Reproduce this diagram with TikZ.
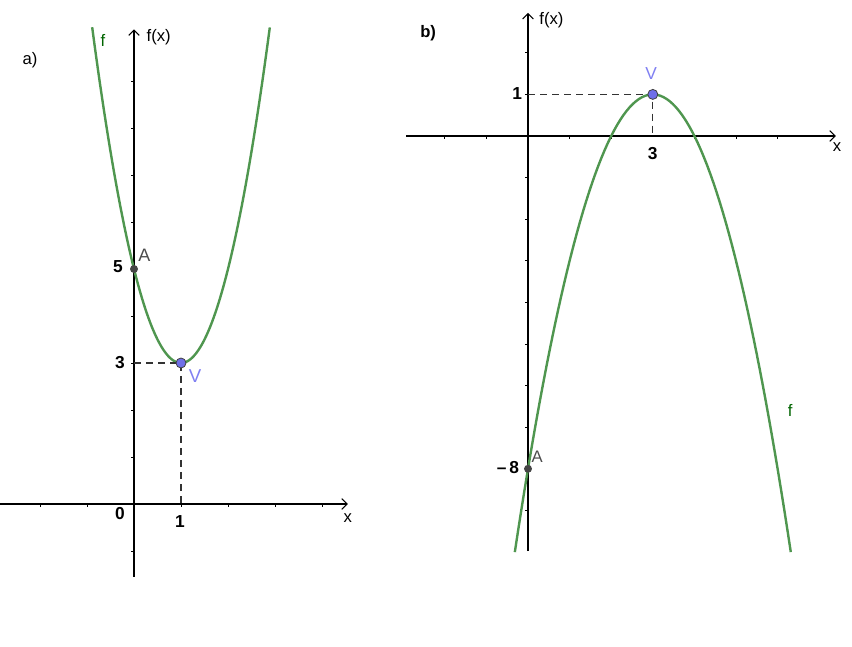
\documentclass[tikz,border=0pt]{standalone}
\usepackage{fontspec}
\setmainfont{Liberation Sans}
\usepackage{tikz}
\usetikzlibrary{arrows.meta}
\definecolor{curvegreen}{HTML}{4F964F}
\definecolor{labelgreen}{HTML}{006400}
\definecolor{vertexblue}{HTML}{6F6FE8}
\definecolor{vertexlabel}{HTML}{8080F2}
\definecolor{pointgray}{HTML}{454545}

\begin{document}
\begin{tikzpicture}[
    axis/.style={line width=0.8pt, -{Straight Barb[length=4pt, width=8pt]}},
    tick/.style={line width=0.6pt},
    graph/.style={curvegreen, line width=1.8pt},
    guide/.style={dash pattern=on 5.5pt off 3.5pt, line width=0.8pt, black!80},
    vertexpt/.style={circle, draw=black!75, line width=0.6pt, fill=vertexblue,
      inner sep=0pt, minimum size=7.5pt},
    interceptpt/.style={circle, fill=pointgray, inner sep=0pt, minimum size=6pt},
    numlabel/.style={font=\fontsize{13}{15}\selectfont\bfseries},
    ptlabel/.style={font=\fontsize{12.5}{15}\selectfont}
  ]
  \useasboundingbox (0,0) rectangle (639pt,484.5pt);

  % a) f(x) = 2(x-1)^2 + 3
  \begin{scope}[shift={(100.5pt,106.5pt)}, x=35.25pt, y=35.25pt]
    \draw[axis] (-2.85,0) -- (4.55,0) coordinate (xa);
    \draw[axis] (0,-1.55) -- (0,10.1) coordinate (ya);
    \foreach \t in {-2,-1,1,2,3,4}
      \draw[tick] (\t,0) -- (\t,-0.07);
    \foreach \t in {-1,1,2,...,9}
      \draw[tick] (0,\t) -- (-0.07,\t);

    \draw[graph] plot[domain=-0.89:2.89, samples=90] (\x, {2*(\x-1)^2+3});

    \coordinate (Va-y) at (0,3);
    \coordinate (Va-x) at (1,0);
    \draw[guide] (Va-y) -- (1,3) -- (Va-x);
    \node[interceptpt] (Aa) at (0,5) {};
    \node[vertexpt] (Va) at (1,3) {};

    \node[ptlabel] (lbla) at (-2.21,9.45) {a)};
    \node[ptlabel, anchor=west] (fxa) at (0.17,9.94) {f(x)};
    \node[ptlabel, labelgreen] (fa) at (-0.66,9.87) {f};
    \node[numlabel] (five) at (-0.34,5.04) {5};
    \node[ptlabel, black!70, font=\fontsize{13.5}{15}\selectfont] (Aa-l) at (0.22,5.3) {A};
    \node[numlabel] (three) at (-0.3,3) {3};
    \node[ptlabel, vertexlabel, font=\fontsize{14}{15}\selectfont] (Va-l) at (1.3,2.72) {V};
    \node[numlabel] (zero) at (-0.3,-0.21) {0};
    \node[numlabel] (one) at (0.98,-0.38) {1};
    \node[ptlabel] (xa-l) at (4.55,-0.3) {x};
  \end{scope}

  % b) f(x) = -(x-3)^2 + 1
  \begin{scope}[shift={(396pt,382.5pt)}, x=31.2pt, y=31.2pt]
    \draw[axis] (-2.93,0) -- (7.4,0) coordinate (xb);
    \draw[axis] (0,-9.98) -- (0,2.96) coordinate (yb);
    \foreach \t in {-2,-1,1,2,4,5,6}
      \draw[tick] (\t,0) -- (\t,-0.07);
    \foreach \t in {2,1,-1,-2,...,-9}
      \draw[tick] (0,\t) -- (-0.07,\t);

    \draw[graph] plot[domain=-0.317:6.317, samples=90] (\x, {-(\x-3)^2+1});

    \coordinate (Vb-y) at (0,1);
    \coordinate (Vb-x) at (3,0);
    \draw[guide] (Vb-y) -- (3,1) -- (Vb-x);
    \node[interceptpt] (Ab) at (0,-8) {};
    \node[vertexpt] (Vb) at (3,1) {};

    \node[ptlabel, font=\fontsize{12.5}{15}\selectfont\bfseries] (lblb) at (-2.4,2.48) {b)};
    \node[ptlabel, anchor=west] (fxb) at (0.16,2.79) {f(x)};
    \node[ptlabel, vertexlabel, font=\fontsize{13}{15}\selectfont] (Vb-l) at (2.96,1.51) {V};
    \node[numlabel] (oneb) at (-0.26,1.01) {1};
    \node[numlabel] (threeb) at (3.0,-0.41) {3};
    \node[ptlabel] (xb-l) at (7.43,-0.26) {x};
    \node[numlabel] (minus8) at (-0.48,-7.98) {–\,8};
    \node[ptlabel, black!70] (Ab-l) at (0.22,-7.72) {A};
    \node[ptlabel, labelgreen] (fb) at (6.3,-6.59) {f};
  \end{scope}
\end{tikzpicture}
\end{document}
